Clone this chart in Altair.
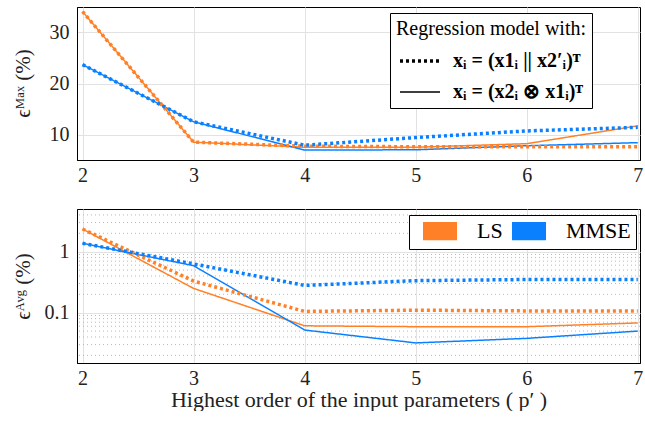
import altair as alt
import pandas as pd

orders = [2, 3, 4, 5, 6, 7]
methods = ["LS", "MMSE"]
models = ["xᵢ = (x1ᵢ || x2′ᵢ)ᵀ", "xᵢ = (x2ᵢ ⊗ x1ᵢ)ᵀ"]

max_ls_concat = [34.1, 8.5, 7.7, 7.6, 7.6, 7.6]
max_ls_kron = [34.1, 8.5, 7.5, 7.5, 8.2, 11.7]
max_mmse_concat = [23.7, 12.5, 7.9, 9.4, 10.7, 11.4]
max_mmse_kron = [23.7, 12.5, 6.95, 7.0, 7.8, 8.4]

avg_ls_concat = [2.35, 0.33, 0.105, 0.11, 0.107, 0.107]
avg_ls_kron = [2.35, 0.25, 0.061, 0.059, 0.059, 0.068]
avg_mmse_concat = [1.37, 0.63, 0.28, 0.335, 0.35, 0.35]
avg_mmse_kron = [1.37, 0.59, 0.052, 0.032, 0.038, 0.05]

minor_ticks = [0.02, 0.03, 0.04, 0.05, 0.06, 0.07, 0.08, 0.09,
               0.2, 0.3, 0.4, 0.5, 0.6, 0.7, 0.8, 0.9, 2, 3, 4]

colors = ["#FF8026", "#0A80FF"]
FONT = "Liberation Serif"
XTITLE = "Highest order of the input parameters ( p′ )"
# swatch shape for the LS / MMSE legend: stacked thin strokes forming a filled block
SWATCH = "".join("M-2,%dH32" % k for k in range(-8, 9, 2))


def frame(series):
    rows = []
    for method, model, vals in series:
        for o, v in zip(orders, vals):
            rows.append({"order": o, "value": v, "method": method, "model": model})
    return pd.DataFrame(rows)


df_max = frame([
    ("LS", models[1], max_ls_kron), ("MMSE", models[1], max_mmse_kron),
    ("LS", models[0], max_ls_concat), ("MMSE", models[0], max_mmse_concat),
])
df_avg = frame([
    ("LS", models[1], avg_ls_kron), ("MMSE", models[1], avg_mmse_kron),
    ("LS", models[0], avg_ls_concat), ("MMSE", models[0], avg_mmse_concat),
])
df_minor = pd.DataFrame({"v": minor_ticks})

W = 563
xscale = alt.Scale(domain=[1.95, 7.02], nice=False, zero=False)
cscale = alt.Scale(domain=methods, range=colors)
dscale = alt.Scale(domain=models, range=[[3, 3], [1, 0]])
wscale = alt.Scale(domain=models, range=[3.5, 1.5])

top_legend = alt.Legend(
    title="Regression model with:", orient="none", legendX=313, legendY=6,
    strokeColor="black", fillColor="white", padding=6,
    titleFont=FONT, titleFontSize=20, titleFontWeight="normal", titleAnchor="middle",
    titleColor="black", titlePadding=0, titleLimit=400,
    labelFont=FONT, labelFontSize=20, labelFontWeight="bold", labelColor="black",
    labelOffset=11, labelLimit=400, symbolType="stroke", symbolSize=1600,
    symbolStrokeColor="black", symbolStrokeWidth=2.5, rowPadding=0,
)

bot_legend = alt.Legend(
    title=None, orient="none", legendX=332, legendY=6, direction="horizontal",
    strokeColor="black", fillColor="white", padding=5,
    labelFont=FONT, labelFontSize=22, labelColor="black", labelOffset=41,
    symbolType=SWATCH, symbolSize=4, symbolStrokeWidth=2.3,
    symbolOpacity=1, columnPadding=0,
)


def lines(df, yenc, legend_dash, legend_color, xtitle):
    base = alt.Chart(df).mark_line(clip=True).encode(
        x=alt.X("order:Q", scale=xscale,
                axis=alt.Axis(values=orders, format="d", title=xtitle)),
        y=yenc,
        color=alt.Color("method:N", scale=cscale, legend=legend_color),
        strokeDash=alt.StrokeDash("model:N", scale=dscale, legend=legend_dash),
        strokeWidth=alt.StrokeWidth("model:N", scale=wscale, legend=None),
        detail="method:N",
    )
    solid = base.transform_filter(alt.datum.model == models[1])
    dotted = base.transform_filter(alt.datum.model == models[0])
    return solid, dotted


ymax = alt.Y("value:Q", scale=alt.Scale(domain=[5, 35], nice=False),
             axis=alt.Axis(values=[10, 20, 30], title="ϵᴹᵃˣ (%)", titleX=-44, titleY=76))
s1, d1 = lines(df_max, ymax, top_legend, None, None)
top = alt.layer(s1, d1).properties(width=W, height=153)

yavg_scale = alt.Scale(type="log", domain=[0.015, 5], nice=False)
yavg = alt.Y("value:Q", scale=yavg_scale,
             axis=alt.Axis(values=[0.1, 1], labelExpr="datum.value >= 1 ? '1' : '0.1'",
                           title="ϵᴬᵛᵍ (%)", titleX=-44, titleY=77))
minor = alt.Chart(df_minor).mark_rule(color="#b8b8b8", strokeDash=[1, 3], strokeWidth=1).encode(
    y=alt.Y("v:Q", scale=yavg_scale),
)
s2, d2 = lines(df_avg, yavg, None, bot_legend, XTITLE)
bottom = alt.layer(minor, s2, d2).properties(width=W, height=154)

chart = alt.vconcat(top, bottom, spacing=22).resolve_scale(
    color="independent", strokeDash="independent", strokeWidth="independent",
).resolve_legend(color="independent", strokeDash="independent").properties(
    padding={"left": 11, "top": 6, "right": 0, "bottom": 0}
).configure(
    font=FONT,
).configure_view(
    stroke="black", strokeWidth=1,
).configure_axis(
    labelFont=FONT, labelFontSize=20, labelColor="#222222",
    titleFont=FONT, titleFontSize=21, titleFontWeight="normal", titleColor="#222222",
    gridColor="#e2e2e2", gridWidth=1, domainColor="black", ticks=False,
    labelPadding=5,
).configure_axisY(
    labelPadding=8,
).configure_axisX(
    titleFontSize=22, titlePadding=1,
)

chart.save("out.html", embed_options={"renderer": "svg", "actions": False})
